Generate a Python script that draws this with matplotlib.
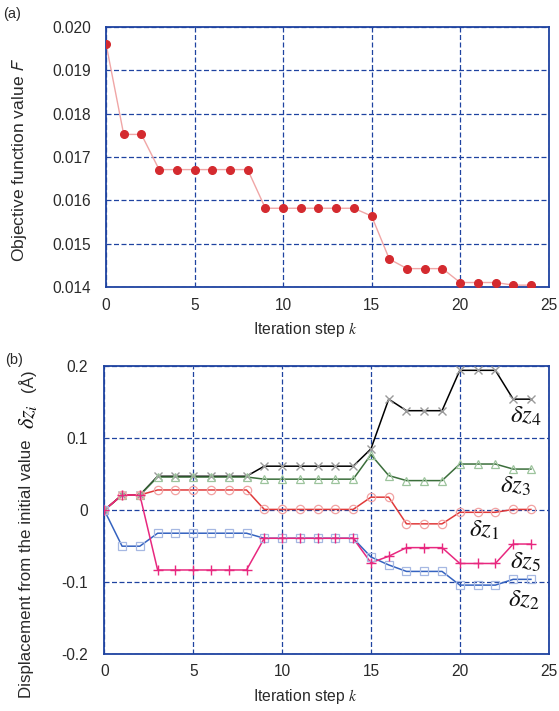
import matplotlib
matplotlib.use("Agg")
import matplotlib.pyplot as plt
import numpy as np

plt.rcParams['font.family'] = ['Liberation Sans', 'DejaVu Sans']

# ---------------- data ----------------
k = list(range(25))
F = [0.01961, 0.01752, 0.01752, 0.01671, 0.01671, 0.01671, 0.01671, 0.01671, 0.01671,
     0.01582, 0.01582, 0.01582, 0.01582, 0.01582, 0.01582, 0.01564, 0.01465,
     0.01443, 0.01443, 0.01443, 0.01411, 0.01411, 0.01411, 0.01405, 0.01405]

dz1 = [0, 0.021, 0.021, 0.028, 0.028, 0.028, 0.028, 0.028, 0.028,
       0.001, 0.001, 0.001, 0.001, 0.001, 0.001, 0.018, 0.018,
       -0.019, -0.019, -0.019, -0.003, -0.003, -0.003, 0.001, 0.001]
dz2 = [0, -0.050, -0.050, -0.032, -0.032, -0.032, -0.032, -0.032, -0.032,
       -0.039, -0.039, -0.039, -0.039, -0.039, -0.039, -0.065, -0.076,
       -0.085, -0.085, -0.085, -0.104, -0.104, -0.104, -0.096, -0.096]
dz3 = [0, 0.021, 0.021, 0.046, 0.046, 0.046, 0.046, 0.046, 0.046,
       0.043, 0.043, 0.043, 0.043, 0.043, 0.043, 0.077, 0.048,
       0.041, 0.041, 0.041, 0.064, 0.064, 0.064, 0.057, 0.057]
dz4 = [0, 0.021, 0.021, 0.047, 0.047, 0.047, 0.047, 0.047, 0.047,
       0.061, 0.061, 0.061, 0.061, 0.061, 0.061, 0.085, 0.154,
       0.138, 0.138, 0.138, 0.194, 0.194, 0.194, 0.154, 0.154]
dz5 = [0, 0.021, 0.021, -0.083, -0.083, -0.083, -0.083, -0.083, -0.083,
       -0.039, -0.039, -0.039, -0.039, -0.039, -0.039, -0.073, -0.064,
       -0.052, -0.052, -0.052, -0.074, -0.074, -0.074, -0.047, -0.047]

series_labels = [r'$\delta z_4$', r'$\delta z_3$', r'$\delta z_1$', r'$\delta z_5$', r'$\delta z_2$']
label_pos = [(23.7, 0.130), (23.15, 0.033), (21.35, -0.027), (23.7, -0.0715), (23.6, -0.124)]

xticks = [0, 5, 10, 15, 20, 25]
yticks_a = [0.014, 0.015, 0.016, 0.017, 0.018, 0.019, 0.020]
yticks_b = [-0.2, -0.1, 0, 0.1, 0.2]
yticklabels_b = ['-0.2', '-0.1', '0', '0.1', '0.2']

# ---------------- style ----------------
BLUE = '#1f43a0'
TXT = '#2a2a2a'
W, H = 559, 711
fig = plt.figure(figsize=(W / 100, H / 100), dpi=100)

def px_rect(l, t, r, b):
    return [l / W, 1 - b / H, (r - l) / W, (b - t) / H]

def style_axes(ax):
    for s in ax.spines.values():
        s.set_color(BLUE)
        s.set_linewidth(1.3)
    ax.grid(True, color=BLUE, linestyle=(0, (4, 2)), linewidth=0.9)
    ax.set_axisbelow(True)
    ax.tick_params(length=0, labelsize=11.2, labelcolor=TXT)

# ---------------- panel (a) ----------------
axa = fig.add_axes(px_rect(106, 26.7, 548.7, 287.3))
axa.plot(k, F, color='#f0a6a6', lw=1.0, zorder=2)
axa.plot(k, F, linestyle='none', marker='o', ms=5.5, color='#d42a2f', mec='#d42a2f', zorder=3)
axa.set_xlim(0, 25)
axa.set_ylim(0.014, 0.020)
axa.set_xticks(xticks)
axa.set_yticks(yticks_a)
axa.set_yticklabels([f'{v:.3f}' for v in yticks_a])
style_axes(axa)
axa.tick_params(axis='y', pad=11)
axa.tick_params(axis='x', pad=8)

fig.text(20 / W, 1 - 160 / H, r'Objective function value $F$', rotation=90,
         ha='center', va='center', fontsize=12.6, color=TXT, math_fontfamily='stixsans')
fig.text(305 / W, 1 - 329 / H, r'Iteration step $k$', ha='center', va='center',
         fontsize=11.3, color=TXT, math_fontfamily='stix')
fig.text(12 / W, 1 - 14 / H, '(a)', ha='center', va='center', fontsize=10.5, color=TXT)

# ---------------- panel (b) ----------------
axb = fig.add_axes(px_rect(104.3, 366, 548.7, 654.3))
specs = [
    (dz4, 'k', 'x', '#9a9a9a', 'full'),
    (dz3, '#3b6e3b', '^', '#9dc49d', 'none'),
    (dz1, '#e03a3a', 'o', '#f2a2a2', 'none'),
    (dz2, '#3563c0', 's', '#a6b8e2', 'none'),
    (dz5, '#e8287f', '+', '#e8287f', 'full'),
]
for vals, lc, mk, mc, fill in specs:
    axb.plot(k, vals, color=lc, lw=1.1, zorder=2)
    if fill == 'none':
        axb.plot(k, vals, linestyle='none', marker=mk, ms=6, mfc='none', mec=mc,
                 mew=0.9, zorder=3)
    else:
        axb.plot(k, vals, linestyle='none', marker=mk, ms=7 if mk == '+' else 6,
                 color=mc, mew=1.0, zorder=3)

for lab, (x, y) in zip(series_labels, label_pos):
    axb.text(x, y, lab, ha='center', va='center', fontsize=18, color='#111111',
             math_fontfamily='stix')

axb.set_xlim(0, 25)
axb.set_ylim(-0.2, 0.2)
axb.set_xticks(xticks)
axb.set_yticks(yticks_b)
axb.set_yticklabels(yticklabels_b)
style_axes(axb)
axb.tick_params(axis='y', pad=12)
axb.tick_params(axis='x', pad=7)

fig.text(27 / W, 1 - 569 / H, 'Displacement from the initial value', rotation=90,
         ha='center', va='center', fontsize=12.2, color=TXT)
fig.text(28 / W, 1 - 417 / H, r'$\delta z_i$', rotation=90,
         ha='center', va='center', fontsize=16, color='#111111', math_fontfamily='stix')
fig.text(27 / W, 1 - 381 / H, '(Å)', rotation=90,
         ha='center', va='center', fontsize=12.2, color=TXT)
fig.text(305 / W, 1 - 697 / H, r'Iteration step $k$', ha='center', va='center',
         fontsize=11.3, color=TXT, math_fontfamily='stix')
fig.text(14 / W, 1 - 360 / H, '(b)', ha='center', va='center', fontsize=10.5, color=TXT)

fig.savefig('out.png', dpi=100)
